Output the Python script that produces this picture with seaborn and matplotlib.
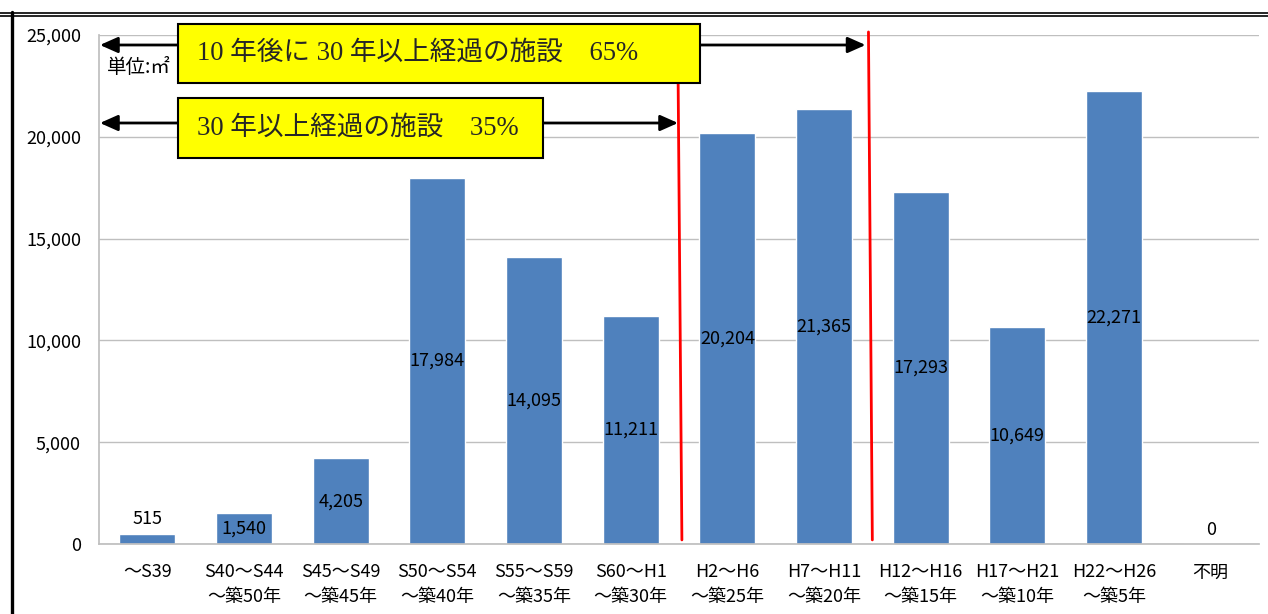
import matplotlib
matplotlib.use('Agg')
import matplotlib.pyplot as plt
from matplotlib.patches import Rectangle
from matplotlib.lines import Line2D
import seaborn as sns
import pandas as pd

# 建築年度別の延床面積（単位：㎡）
periods = ['～S39', 'S40～S44\n～築50年', 'S45～S49\n～築45年', 'S50～S54\n～築40年',
           'S55～S59\n～築35年', 'S60～H1\n～築30年', 'H2～H6\n～築25年', 'H7～H11\n～築20年',
           'H12～H16\n～築15年', 'H17～H21\n～築10年', 'H22～H26\n～築5年', '不明']
areas = [515, 1540, 4205, 17984, 14095, 11211, 20204, 21365, 17293, 10649, 22271, 0]

box_texts = ['10 年後に 30 年以上経過の施設　65%', '30 年以上経過の施設　35%']

df = pd.DataFrame({'period': periods, 'area': areas})

sns.set_theme(style='white')
plt.rcParams['font.family'] = ['Noto Sans CJK JP', 'DejaVu Sans']

W, H = 1268, 614
fig = plt.figure(figsize=(W / 100, H / 100), dpi=100)
ax = fig.add_axes([99 / W, 1 - 544 / H, (1259 - 99) / W, (544 - 35) / H])

sns.barplot(data=df, x='period', y='area', color='#4F81BD', saturation=1,
            width=0.58, ax=ax, zorder=2)

ax.set_ylim(0, 25000)
ax.set_xlim(-0.5, len(periods) - 0.5)
ax.set_yticks(range(0, 25001, 5000))
ax.set_yticklabels([f'{v:,}' for v in range(0, 25001, 5000)])
ax.set_xlabel('')
ax.set_ylabel('')
ax.tick_params(axis='both', length=0, labelsize=13, colors='black')
ax.tick_params(axis='y', pad=13)
ax.tick_params(axis='x', pad=14)
for lbl in ax.get_xticklabels():
    lbl.set_linespacing(1.5)
ax.grid(axis='y', color='#BFBFBF', lw=1, zorder=0)
ax.set_axisbelow(True)
for s in ['top', 'right']:
    ax.spines[s].set_visible(False)
ax.spines['left'].set_color('#BFBFBF')
ax.spines['bottom'].set_color('#BFBFBF')

# 値ラベル
for i, v in enumerate(areas):
    if v < 1000:
        ax.text(i, v + 250, f'{v:,}', ha='center', va='bottom', fontsize=13, color='black')
    else:
        ax.text(i, v / 2, f'{v:,}', ha='center', va='center', fontsize=13, color='black')

ax.text(-0.42, 23380, '単位:㎡', ha='left', va='center', fontsize=14, color='black')

# 赤線（30年経過の境界）
ax.plot([5.49, 5.53], [23300, 200], color='red', lw=2, clip_on=False, zorder=4)
ax.plot([7.46, 7.50], [25150, 200], color='red', lw=2, clip_on=False, zorder=4)

# 矢印
arrow = dict(arrowstyle='<|-|>,head_length=0.9,head_width=0.4', lw=2,
             color='black', shrinkA=0, shrinkB=0)
ax.annotate('', xy=(7.43, 24509), xytext=(-0.49, 24509), arrowprops=arrow,
            annotation_clip=False, zorder=5)
ax.annotate('', xy=(5.49, 20678), xytext=(-0.49, 20678), arrowprops=arrow,
            annotation_clip=False, zorder=5)

# 黄色の注記ボックス
boxes = [(178, 24, 700, 83), (178, 98, 543, 158)]
for (x0, y0, x1, y1), t in zip(boxes, box_texts):
    fig.add_artist(Rectangle((x0 / W, 1 - y1 / H), (x1 - x0) / W, (y1 - y0) / H,
                             facecolor='#FFFF00', edgecolor='black', lw=1.5,
                             transform=fig.transFigure, zorder=6))
    fig.text(197 / W, 1 - (y0 + y1) / 2 / H, t, ha='left', va='center',
             fontsize=19.2, family=['Liberation Serif', 'Noto Sans CJK JP'], zorder=7)

# 外枠
fig.add_artist(Line2D([0, 1], [1 - 12.5 / H] * 2, color='black', lw=1.2, transform=fig.transFigure))
fig.add_artist(Line2D([0, 1], [1 - 15.5 / H] * 2, color='black', lw=1.2, transform=fig.transFigure))
fig.add_artist(Line2D([11.5 / W] * 2, [0, 1 - 12 / H], color='black', lw=2.4, transform=fig.transFigure))

fig.savefig('out.png', dpi=100)
